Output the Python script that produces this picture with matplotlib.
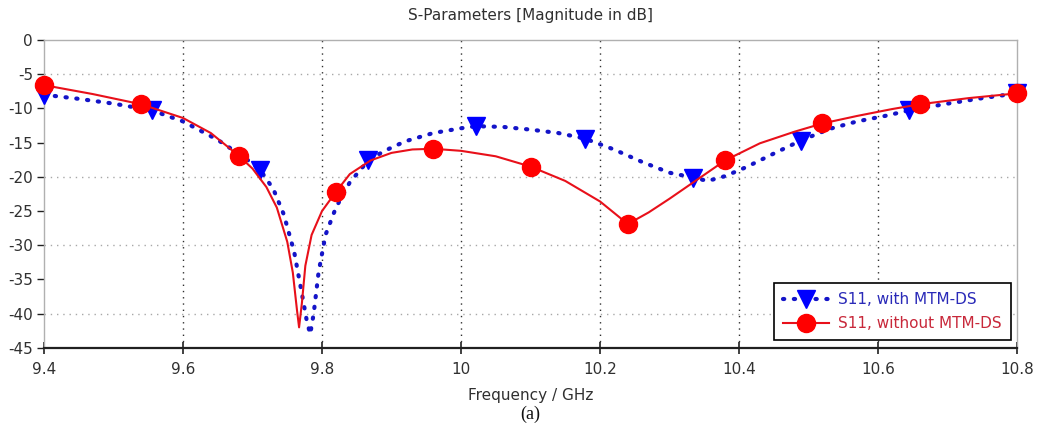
import numpy as np
import matplotlib
matplotlib.use("Agg")
import matplotlib.pyplot as plt

# S11 with MTM-DS (blue, dotted)
freq_with = [9.40, 9.45, 9.50, 9.5556, 9.60, 9.65, 9.69, 9.7111, 9.73, 9.745,
             9.76, 9.77, 9.778, 9.783, 9.788, 9.795, 9.805, 9.82, 9.84, 9.8667,
             9.89, 9.92, 9.96, 10.00, 10.0222, 10.06, 10.10, 10.14, 10.1778, 10.22,
             10.26, 10.30, 10.3333, 10.355, 10.38, 10.41, 10.45, 10.4889, 10.53, 10.57,
             10.61, 10.6444, 10.70, 10.75, 10.80]
s11_with = [-8.0, -8.6, -9.3, -10.3, -11.9, -14.6, -17.3, -19.0, -21.8, -25.5,
            -31.0, -36.5, -41.0, -43.0, -40.0, -34.0, -28.5, -24.5, -20.8, -17.6,
            -16.2, -14.8, -13.6, -12.9, -12.6, -12.7, -13.1, -13.6, -14.4, -16.0,
            -17.8, -19.4, -20.1, -20.6, -19.9, -18.6, -16.6, -14.7, -13.0, -11.9,
            -11.1, -10.3, -9.3, -8.5, -7.8]

# S11 without MTM-DS (red, solid)
freq_without = [9.40, 9.47, 9.54, 9.60, 9.64, 9.68, 9.70, 9.72, 9.735, 9.75,
                9.758, 9.764, 9.767, 9.771, 9.776, 9.785, 9.80, 9.82, 9.84, 9.87,
                9.90, 9.93, 9.96, 10.00, 10.05, 10.10, 10.15, 10.20, 10.24, 10.27,
                10.30, 10.34, 10.38, 10.43, 10.48, 10.52, 10.57, 10.62, 10.66, 10.73,
                10.80]
s11_without = [-6.6, -7.9, -9.4, -11.4, -13.6, -16.9, -18.8, -21.5, -24.5, -29.5,
               -34.0, -39.5, -42.0, -38.5, -33.0, -28.5, -25.0, -22.2, -19.6, -17.6,
               -16.5, -16.0, -15.9, -16.2, -17.0, -18.5, -20.6, -23.6, -26.9, -25.2,
               -23.2, -20.4, -17.6, -15.1, -13.4, -12.2, -11.1, -10.1, -9.4, -8.5,
               -7.8]

x_ticks = [9.4, 9.6, 9.8, 10, 10.2, 10.4, 10.6, 10.8]
x_tick_labels = ["9.4", "9.6", "9.8", "10", "10.2", "10.4", "10.6", "10.8"]
y_ticks = [0, -5, -10, -15, -20, -25, -30, -35, -40, -45]
y_grid = [-5, -20, -30, -40]


def mark_idx(freqs, n):
    # indices of the points nearest to n evenly spaced marker positions
    f = np.array(freqs)
    return [int(np.argmin(np.abs(f - m))) for m in np.linspace(f[0], f[-1], n)]


plt.rcParams["font.family"] = ["DejaVu Sans"]

fig = plt.figure(figsize=(10.38, 4.30), dpi=100)
ax = fig.add_axes([0.0424, 0.191, 0.9374, 0.716])

ax.plot(freq_with, s11_with, color="#1414c8", lw=3.0, dashes=(0.3, 2.3),
        dash_capstyle="round", marker="v", markersize=13, markerfacecolor="#0000ff",
        markeredgecolor="#0000ff", markevery=mark_idx(freq_with, 10),
        label="S11, with MTM-DS", zorder=3, clip_on=False)
ax.plot(freq_without, s11_without, color="#e8101a", lw=1.5,
        marker="o", markersize=13, markerfacecolor="#ff0000",
        markeredgecolor="#ff0000", markevery=mark_idx(freq_without, 11),
        label="S11, without MTM-DS", zorder=4, clip_on=False)

ax.set_xlim(9.4, 10.8)
ax.set_ylim(-45, 0)
ax.set_xticks(x_ticks)
ax.set_xticklabels(x_tick_labels)
ax.set_yticks(y_ticks)
ax.set_yticklabels([str(v) for v in y_ticks])

for xv in x_ticks[1:-1]:
    ax.axvline(xv, color="#303030", lw=1.0, dashes=(1, 3.5), zorder=1)
for yv in y_grid:
    ax.axhline(yv, color="#a8a8a8", lw=1.0, dashes=(1, 3.5), zorder=1)

for s in ["top", "right", "left"]:
    ax.spines[s].set_color("#b0b0b0")
    ax.spines[s].set_linewidth(1.0)
ax.spines["bottom"].set_color("#202020")
ax.spines["bottom"].set_linewidth(1.6)

ax.tick_params(axis="x", direction="inout", length=9, width=1.2, colors="#202020",
               labelsize=11, pad=6, labelcolor="#303030")
ax.tick_params(axis="y", direction="out", length=5, width=1.0, colors="#202020",
               labelsize=11, pad=3, labelcolor="#303030")

fig.text(0.5108, 0.965, "S-Parameters [Magnitude in dB]", ha="center", va="center",
         fontsize=11, color="#303030")
fig.text(0.5108, 0.081, "Frequency / GHz", ha="center", va="center",
         fontsize=11, color="#303030")
fig.text(0.5108, 0.036, "(a)", ha="center", va="center", fontsize=13,
         family="Liberation Serif", color="#101010")

leg = ax.legend(loc="upper right", bbox_to_anchor=(0.9938, 0.211), fontsize=11,
                handlelength=3.0, borderpad=0.6, labelspacing=0.6,
                handletextpad=0.6, fancybox=False, framealpha=1, borderaxespad=0)
leg.get_frame().set_edgecolor("#000000")
leg.get_frame().set_linewidth(1.2)
leg.get_texts()[0].set_color("#2a2ab8")
leg.get_texts()[1].set_color("#c8283a")

fig.savefig("out.png", dpi=100)
